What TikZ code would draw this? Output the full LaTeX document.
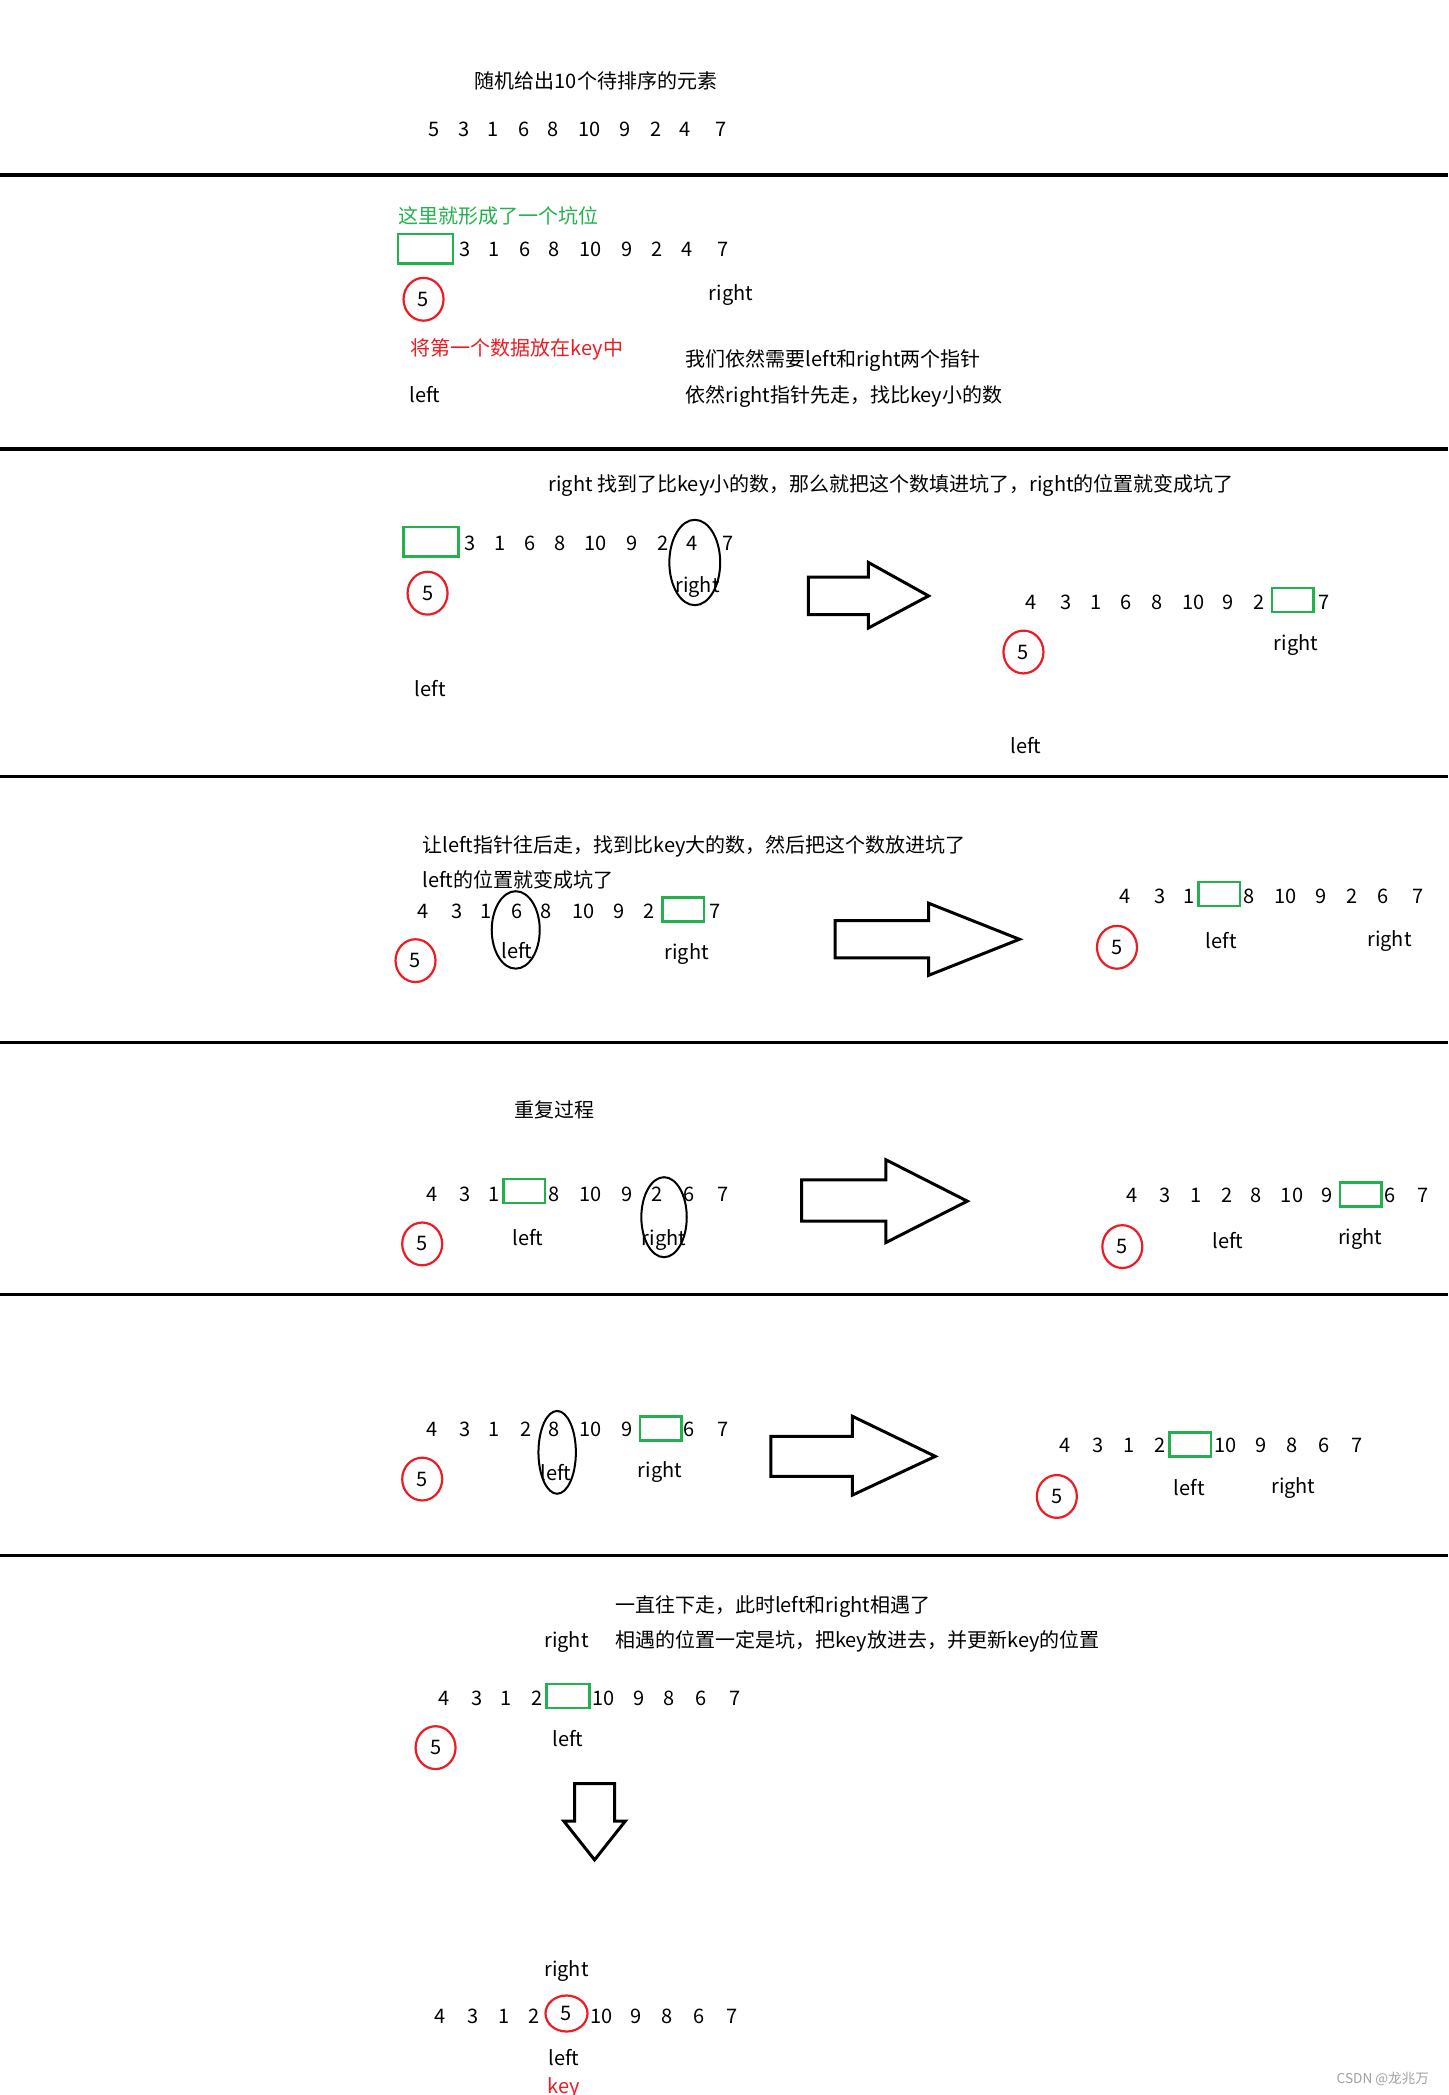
\documentclass[tikz,border=0pt]{standalone}
\usepackage{fontspec}
\setmainfont{Noto Sans CJK SC}
\usepackage{xcolor}
\usepackage{tikz}
\usetikzlibrary{
  shapes.geometric,
  positioning
}
\definecolor{HoleGreen}{RGB}{34,177,76}
\definecolor{KeyRed}{RGB}{237,28,36}
\definecolor{MarkGray}{RGB}{160,160,160}
\tikzset{
  %%── 文字与数字 ─────────────────────────────────────────────
  txt/.style = {
    inner sep = 0pt, text height = 8.2pt, text depth = 0pt,
    font = \fontsize{10}{12}\selectfont
  },
  num/.style = {txt},
  %%── 坑位（绿框）与 key（红圈）─────────────────────────────
  hole/.style = {
    rectangle, draw = HoleGreen, line width = 1.3pt,
    minimum width = 20.7pt, minimum height = 12pt, inner sep = 0pt
  },
  bighole/.style = {hole, minimum width = 27.4pt, minimum height = 14.7pt},
  keyc/.style = {
    ellipse, draw = KeyRed, line width = 1.1pt,
    minimum width = 20pt, minimum height = 21.4pt, txt, text height = 7pt
  },
  %%── 指针圈（黑色椭圆）────────────────────────────────────
  ring/.style args = {#1/#2}{
    ellipse, draw = black, line width = 1pt,
    minimum width = #1, minimum height = #2, inner sep = 0pt
  },
  %%── 分隔线与空心箭头 ───────────────────────────────────────
  sepline/.style = {line width = 1.6pt},
  bigarr/.style  = {draw = black, line width = 1.5pt, line join = miter},
}

\begin{document}
\begin{tikzpicture}[x = 0.6679pt, y = -0.6679pt]
  \useasboundingbox (0,0) rectangle (1084,1568);

  %% ── 0：初始序列 ──────────────────────────────────────────
  \node[txt] (title0) at (446,60) {随机给出10个待排序的元素};
  \foreach \v/\x [count=\i] in {5/325,3/347,1/369,6/392,8/414,10/441,9/468,2/491,4/513,7/540}
    \node[num] (r0n\i) at (\x,96) {\v};
  \coordinate (s1w) at (0,131);  \coordinate (s1e) at (1084,131);
  \draw[sepline] (s1w) -- (s1e);

  %% ── 1：挖坑，key = 5 ─────────────────────────────────────
  \node[txt, text=HoleGreen] (note1) at (373,161) {这里就形成了一个坑位};
  \node[bighole] (hole1) at (318.5,186) {};
  \foreach \v/\x [count=\i] in {3/348,1/370,6/393,8/415,10/442,9/469,2/492,4/514,7/541}
    \node[num] (r1n\i) at (\x,186) {\v};
  \node[keyc] (key1) at (317,224) {5};
  \node[txt] (right1) at (547,219) {right};
  \node[txt, text=KeyRed] (note1b) at (387,260) {将第一个数据放在key中};
  \node[txt, anchor=west] (note1c) at (513,268) {我们依然需要left和right两个指针};
  \node[txt, anchor=west] (note1d) at (513,295) {依然right指针先走，找比key小的数};
  \node[txt] (left1) at (318,295) {left};
  \coordinate (s2w) at (0,336);  \coordinate (s2e) at (1084,336);
  \draw[sepline] (s2w) -- (s2e);

  %% ── 2：right 找到 4，填坑 ────────────────────────────────
  \node[txt] (title2) at (667,362) {right 找到了比key小的数，那么就把这个数填进坑了，right的位置就变成坑了};
  \node[bighole] (hole2a) at (322.5,405.5) {};
  \foreach \v/\x [count=\i] in {3/352,1/374,6/397,8/419,10/446,9/473,2/496,4/518,7/545}
    \node[num] (r2an\i) at (\x,406) {\v};
  \node[ring={25.4pt/42.7pt}] (ring2) at (520,421) {};
  \node[txt] (right2a) at (522,437) {right};
  \node[keyc] (key2a) at (320,444) {5};
  \node[txt] (left2a) at (322,515) {left};
  \draw[bigarr] (605,432) -- (650,432) -- (650,421) -- (695,446)
                -- (650,470) -- (650,460) -- (605,460) -- cycle;
  \foreach \v/\x [count=\i] in {4/772,3/798,1/820,6/843,8/866,10/893,9/919,2/942,7/991}
    \node[num] (r2bn\i) at (\x,450) {\v};
  \node[hole] (hole2b) at (967.5,449) {};
  \node[txt] (right2b) at (970,481) {right};
  \node[keyc] (key2b) at (766,488) {5};
  \node[txt] (left2b) at (768,558) {left};
  \coordinate (s3w) at (0,581);  \coordinate (s3e) at (1084,581);
  \draw[sepline] (s3w) -- (s3e);

  %% ── 3：left 找到 6，填坑 ─────────────────────────────────
  \node[txt, anchor=west] (note3a) at (316,632) {让left指针往后走，找到比key大的数，然后把这个数放进坑了};
  \node[txt, anchor=west] (note3b) at (316,658) {left的位置就变成坑了};
  \foreach \v/\x [count=\i] in {4/317,3/342,1/364,6/387,8/409,10/437,9/463,2/486,7/535}
    \node[num] (r3an\i) at (\x,681) {\v};
  \node[hole] (hole3a) at (511.5,680.5) {};
  \node[ring={24pt/38.7pt}] (ring3) at (386,696) {};
  \node[txt] (left3a) at (387,711) {left};
  \node[keyc] (key3a) at (311,719) {5};
  \node[txt] (right3a) at (514,712) {right};
  \draw[bigarr] (625,689) -- (695,689) -- (695,676) -- (763,703)
                -- (695,730) -- (695,717) -- (625,717) -- cycle;
  \foreach \v/\x [count=\i] in {4/842,3/868,1/890,8/935,10/962,9/989,2/1012,6/1035,7/1061}
    \node[num] (r3bn\i) at (\x,670) {\v};
  \node[hole] (hole3b) at (912.5,669) {};
  \node[keyc] (key3b) at (836,709) {5};
  \node[txt] (left3b) at (914,704) {left};
  \node[txt] (right3b) at (1040,702) {right};
  \coordinate (s4w) at (0,780);  \coordinate (s4e) at (1084,780);
  \draw[sepline] (s4w) -- (s4e);

  %% ── 4：重复过程 ──────────────────────────────────────────
  \node[txt] (note4) at (415,830) {重复过程};
  \foreach \v/\x [count=\i] in {4/323,3/348,1/370,8/415,10/442,9/469,2/492,6/516,7/541}
    \node[num] (r4an\i) at (\x,893) {\v};
  \node[hole] (hole4a) at (392.5,891.5) {};
  \node[ring={22.7pt/40pt}] (ring4) at (497,911) {};
  \node[txt] (left4a) at (395,926) {left};
  \node[txt] (right4a) at (497,926) {right};
  \node[keyc] (key4a) at (316,931) {5};
  \draw[bigarr] (600,883) -- (663,883) -- (663,868) -- (724,899)
                -- (663,930) -- (663,914) -- (600,914) -- cycle;
  \foreach \v/\x [count=\i] in {4/847,3/872,1/895,2/918,8/940,10/967,9/993,6/1040,7/1065}
    \node[num] (r4bn\i) at (\x,894) {\v};
  \node[hole] (hole4b) at (1018.5,894) {};
  \node[keyc] (key4b) at (840,933) {5};
  \node[txt] (left4b) at (919,928) {left};
  \node[txt] (right4b) at (1018,925) {right};
  \coordinate (s5w) at (0,969);  \coordinate (s5e) at (1084,969);
  \draw[sepline] (s5w) -- (s5e);

  %% ── 5：left 找到 8 ───────────────────────────────────────
  \foreach \v/\x [count=\i] in {4/323,3/348,1/370,2/394,8/415,10/442,9/469,6/516,7/541}
    \node[num] (r5an\i) at (\x,1069) {\v};
  \node[hole] (hole5a) at (494.5,1069) {};
  \node[ring={18.7pt/41.4pt}] (ring5) at (417,1087) {};
  \node[txt] (left5a) at (416,1102) {left};
  \node[txt] (right5a) at (494,1100) {right};
  \node[keyc] (key5a) at (316,1107) {5};
  \draw[bigarr] (577,1075) -- (638,1075) -- (638,1060) -- (700,1090)
                -- (638,1119) -- (638,1105) -- (577,1105) -- cycle;
  \foreach \v/\x [count=\i] in {4/797,3/822,1/845,2/868,10/917,9/944,8/967,6/991,7/1016}
    \node[num] (r5bn\i) at (\x,1081) {\v};
  \node[hole] (hole5b) at (891,1081) {};
  \node[keyc] (key5b) at (791,1120) {5};
  \node[txt] (left5b) at (890,1113) {left};
  \node[txt] (right5b) at (968,1112) {right};
  \coordinate (s6w) at (0,1164);  \coordinate (s6e) at (1084,1164);
  \draw[sepline] (s6w) -- (s6e);

  %% ── 6：相遇，放入 key ────────────────────────────────────
  \node[txt, anchor=west] (note6a) at (460,1201) {一直往下走，此时left和right相遇了};
  \node[txt] (right6a) at (424,1227) {right};
  \node[txt, anchor=west] (note6b) at (460,1227) {相遇的位置一定是坑，把key放进去，并更新key的位置};
  \foreach \v/\x [count=\i] in {4/332,3/357,1/379,2/402,10/452,9/478,8/501,6/525,7/550}
    \node[num] (r6an\i) at (\x,1270) {\v};
  \node[hole, minimum width=21.4pt] (hole6a) at (425,1269.5) {};
  \node[txt] (left6a) at (425,1301) {left};
  \node[keyc] (key6a) at (326,1308) {5};
  \draw[bigarr] (430,1335) -- (460,1335) -- (460,1363) -- (468,1363)
                -- (445,1392) -- (422,1363) -- (430,1363) -- cycle;
  \node[txt] (right6b) at (424,1473) {right};
  \foreach \v/\x [count=\i] in {4/329,3/354,1/377,2/400,10/450,9/476,8/499,6/523,7/548}
    \node[num] (r6bn\i) at (\x,1508) {\v};
  \node[keyc, minimum width=21pt, minimum height=18pt] (key6b) at (424,1507) {5};
  \node[txt] (left6b) at (422,1540) {left};
  \node[txt, text=KeyRed] (keytxt) at (422,1561) {key};

  \node[font=\fontsize{6.8}{8}\selectfont, text=MarkGray, inner sep=0pt] (mark) at (1035,1556) {CSDN @龙兆万};

\end{tikzpicture}
\end{document}
